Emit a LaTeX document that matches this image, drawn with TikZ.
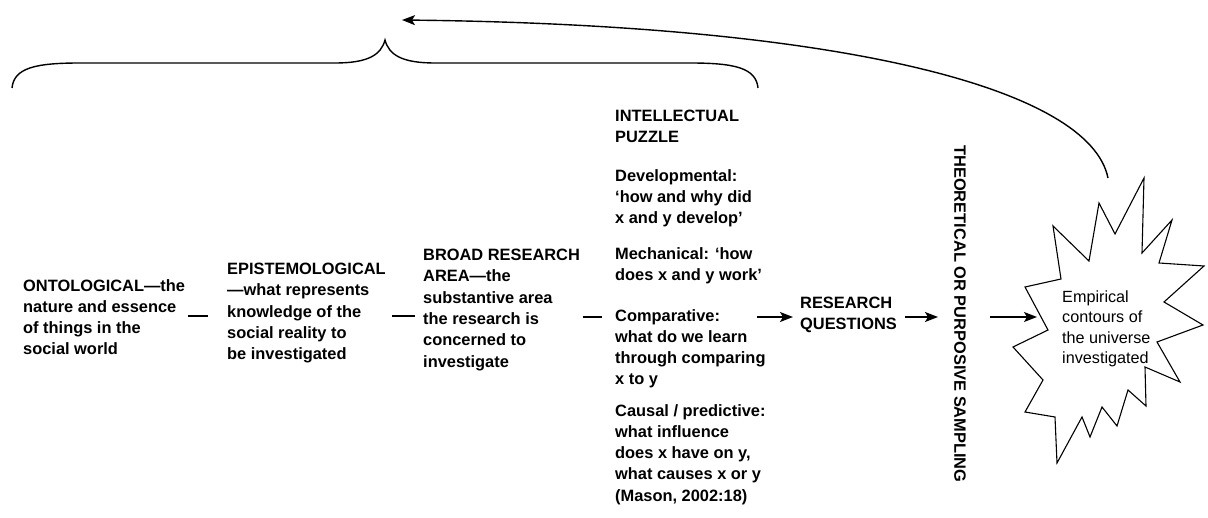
\documentclass[tikz,border=0pt]{standalone}
\usepackage{fontspec}
\setmainfont{Liberation Sans}
\usetikzlibrary{arrows.meta,calc}
\begin{document}
\begin{tikzpicture}[x=1pt,y=-1pt,
  txt/.style={anchor=north west,inner sep=0pt,align=left,
    font=\fontsize{16.4}{21.3}\selectfont\bfseries},
  plain/.style={anchor=north west,inner sep=0pt,align=left,
    font=\fontsize{16.2}{20.5}\selectfont},
  dashline/.style={line width=1.4pt},
  arr/.style={line width=1.4pt,-{Stealth[length=13pt,width=10pt,inset=3pt]}},
  starline/.style={line width=1.1pt,line join=miter},
  curveline/.style={line width=1.4pt}]
\useasboundingbox (0,0) rectangle (1208,518);

% text blocks
\node[txt] (ont) at (23,279) {ONTOLOGICAL---the\\nature and essence\\of things in the\\social world};
\node[txt] (epi) at (227,263) {EPISTEMOLOGICAL\\---what represents\\knowledge of the\\social reality to\\be investigated};
\node[txt] (broad) at (423,249) {BROAD RESEARCH\\AREA---the\\substantive area\\the research is\\concerned to\\investigate};
\node[txt] (ip) at (615,110) {INTELLECTUAL\\PUZZLE};
\node[txt] (dev) at (615,169) {Developmental:\\‘how and why did\\x and y develop’};
\node[txt] (mech) at (615,247) {Mechanical: ‘how\\does x and y work’};
\node[txt] (comp) at (615,309) {Comparative:\\what do we learn\\through comparing\\x to y};
\node[txt] (causal) at (615,404) {Causal / predictive:\\what influence\\does x have on y,\\what causes x or y\\(Mason, 2002:18)};
\node[txt] (rq) at (800,297) {RESEARCH\\QUESTIONS};
\node[inner sep=0pt,rotate=-90,font=\fontsize{16.4}{21.3}\selectfont\bfseries] (theo) at (960,314) {THEORETICAL OR PURPOSIVE SAMPLING};

% star
\draw[starline] (1053,226) -- (1089,261) -- (1099,203) -- (1115,234) -- (1144,178)
  -- (1142,253) -- (1172,220) -- (1159,263) -- (1204,266) -- (1164,302)
  -- (1203,325) -- (1157,342) -- (1180,382) -- (1145,367) -- (1146,406)
  -- (1128,390) -- (1117,426) -- (1102,407) -- (1090,437) -- (1082,417)
  -- (1057,463) -- (1055,417) -- (1025,412) -- (1043,380) -- (1013,347)
  -- (1048,330) -- (1025,287) -- (1061,279) -- cycle;
\node[plain] (emp) at (1062,290.5) {Empirical\\contours of\\the universe\\investigated};

\coordinate (row) at (0,316);
\coordinate (arow) at (0,317);
\coordinate (starin) at (1037,317);
\coordinate (startop) at (1108,178);
\coordinate (bracetip) at (402,20);

% dash connectors
\draw[dashline] ($(ont.east |- row)+(3,0)$) -- ($(epi.west |- row)+(-19,0)$);
\draw[dashline] ($(epi.east |- row)+(6,0)$) -- ($(broad.west |- row)+(-8,0)$);
\draw[dashline] ($(broad.east |- arow)+(3,0)$) -- ($(comp.west |- arow)+(-13,0)$);

% arrows
\draw[arr] ($(rq.west |- arow)+(-43,0)$) -- ($(rq.west |- arow)+(-7,0)$);
\draw[arr] ($(rq.east |- arow)+(8,0)$) -- ($(theo.south |- arow)+(-16,0)$);
\draw[arr] ($(theo.north |- arow)+(24,0)$) -- (starin);

% brace
\draw[curveline] (12,88) .. controls (14,68) and (35,63) .. (80,63)
  -- (335,63) .. controls (368,63) and (381,55) .. (385,40)
  .. controls (389,55) and (402,63) .. (435,63)
  -- (690,63) .. controls (735,63) and (756,68) .. (758,88);

% feedback curve
\draw[arr] (startop) .. controls (1090,90) and (850,25) .. (bracetip);
\end{tikzpicture}
\end{document}
